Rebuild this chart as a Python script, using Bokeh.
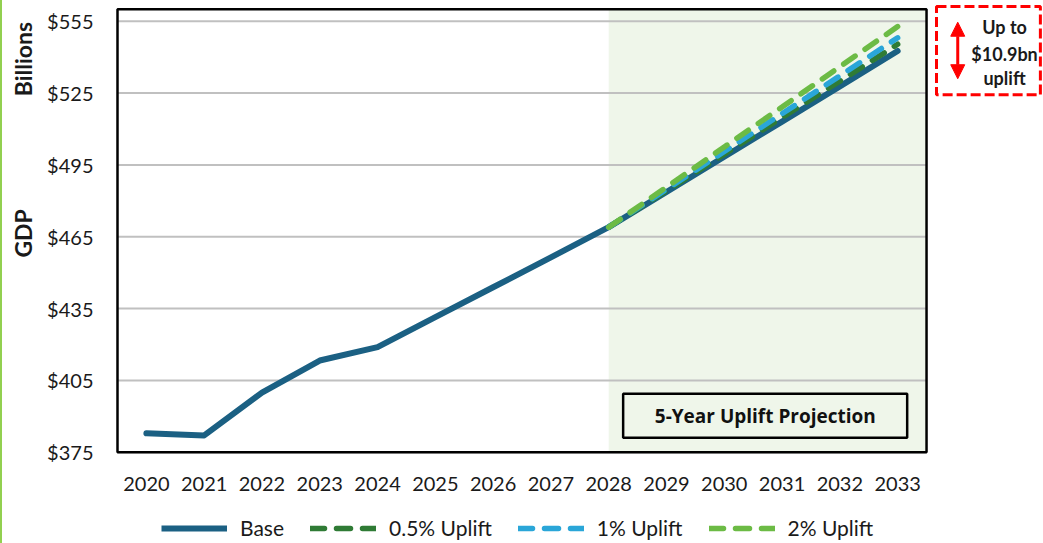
from bokeh.plotting import figure
from bokeh.models import (Range1d, FixedTicker, PrintfTickFormatter, Legend, LegendItem,
                          Arrow, NormalHead, Div)
from bokeh.layouts import column, row
from bokeh.core.properties import value
from bokeh.embed import file_html
from bokeh.resources import INLINE
import math

# ---------------- data ----------------
years = [2020, 2021, 2022, 2023, 2024, 2025, 2026, 2027, 2028, 2029, 2030, 2031, 2032, 2033]
base = [382.9, 382.0, 399.9, 413.3, 418.9, 431.4, 443.9, 456.4, 469.0, 483.7, 498.4, 513.1, 527.8, 542.6]
proj_years = [2028, 2029, 2030, 2031, 2032, 2033]
uplift_05 = [469.0, 484.2, 499.5, 514.8, 530.0, 545.4]
uplift_1 = [469.0, 484.8, 500.6, 516.4, 532.2, 548.1]
uplift_2 = [469.0, 485.7, 502.5, 519.2, 536.0, 552.8]
y_ticks = [375, 405, 435, 465, 495, 525, 555]
series_names = ["Base", "0.5% Uplift", "1% Uplift", "2% Uplift"]
y_titles = ["GDP", "Billions"]

FONT = "Lato"
C_BASE = "#1b6083"
C_05 = "#2f7b35"
C_1 = "#2aa6d8"
C_2 = "#6cbb45"
SHADE = "#eff6ea"
DASH = "14 12"
X0, X1 = years[0] - 0.5, years[-1] + 0.5
Y0, Y1 = 375, 560

yr = Range1d(374.04, 562.84)

p = figure(width=1003, height=500,
           x_range=Range1d(2019.4654, 2035.524), y_range=yr,
           output_backend="svg", toolbar_location=None,
           min_border_left=75, min_border_right=0, min_border_top=2, min_border_bottom=46)
p.outline_line_color = None
p.background_fill_color = "white"
p.border_fill_color = "white"
p.grid.visible = False

# axes
p.yaxis.ticker = FixedTicker(ticks=y_ticks)
p.yaxis.formatter = PrintfTickFormatter(format="$%d")
p.xaxis.ticker = FixedTicker(ticks=years)
p.xaxis.formatter = PrintfTickFormatter(format="%d")
for ax in (p.xaxis[0], p.yaxis[0]):
    ax.axis_line_color = None
    ax.major_tick_line_color = None
    ax.minor_tick_line_color = None
    ax.major_tick_out = 0
    ax.major_tick_in = 0
    ax.major_label_text_font = FONT
    ax.major_label_text_font_size = "20px"
    ax.major_label_text_color = "#1a1a1a"
p.yaxis.major_label_standoff = 22
p.xaxis.major_label_standoff = 22

# projection shading
p.quad(left=[2028], right=[X1], bottom=[Y0], top=[Y1],
       fill_color=SHADE, line_color=None, level="image")

# horizontal gridlines at the tick values, limited to the plot box
p.segment(x0=[X0] * len(y_ticks), x1=[X1] * len(y_ticks), y0=y_ticks, y1=y_ticks,
          line_color="#c0c0c0", line_width=2, level="underlay")

# lines
r_base = p.line(years, base, line_color=C_BASE, line_width=6, line_join="round", line_cap="round")
r05 = p.line(proj_years, uplift_05, line_color=C_05, line_width=5.5, line_dash=DASH, line_cap="round")
r1 = p.line(proj_years, uplift_1, line_color=C_1, line_width=5.5, line_dash=DASH, line_cap="round")
r2 = p.line(proj_years, uplift_2, line_color=C_2, line_width=5.5, line_dash=DASH, line_cap="round")

# projection label box
p.quad(left=[2028.25], right=[2033.165], bottom=[381.0], top=[399.4],
       fill_color=SHADE, line_color="black", line_width=2.5)
p.text(x=[2030.71], y=[390.2], text=["5-Year Uplift Projection"],
       text_font=value("Open Sans"), text_font_style="bold", text_font_size="19px",
       text_align="center", text_baseline="middle", text_color="#111111")

# plot border
p.quad(left=[X0], right=[X1], bottom=[Y0], top=[Y1],
       fill_color=None, line_color="black", line_width=2.5)

# uplift callout
p.quad(left=[2033.672], right=[2035.47], bottom=[524.3], top=[561.2],
       fill_color=None, line_color="#ff0000", line_width=3, line_dash="10 4")
p.text(x=[2034.85, 2034.85, 2034.85], y=[552.5, 541.5, 531.3],
       text=["Up to", "$10.9bn", "uplift"],
       text_font=value(FONT), text_font_style="bold", text_font_size="18px",
       text_align="center", text_baseline="middle", text_color="#1a1a1a")
p.add_layout(Arrow(x_start=2034.04, y_start=531.0, x_end=2034.04, y_end=554.6,
                   line_color="#ff0000", line_width=3,
                   start=NormalHead(size=14, fill_color="#ff0000", line_color="#ff0000"),
                   end=NormalHead(size=14, fill_color="#ff0000", line_color="#ff0000")))

# ---------------- y-title strip (shares the y scale) ----------------
pt = figure(width=38, height=500, x_range=Range1d(0, 38), y_range=yr,
            output_backend="svg", toolbar_location=None,
            x_axis_location=None, y_axis_location=None,
            min_border_left=0, min_border_right=0, min_border_top=2, min_border_bottom=46)
pt.outline_line_color = None
pt.grid.visible = False
pt.text(x=[20, 20], y=[466.4, 539.2], text=y_titles, angle=math.pi / 2,
        text_font=value(FONT), text_font_style="bold", text_font_size="23px",
        text_align="center", text_baseline="middle", text_color="#1a1a1a")

# ---------------- legend strip ----------------
pl = figure(width=1003, height=43, x_range=Range1d(0, 1), y_range=Range1d(0, 1),
            output_backend="svg", toolbar_location=None,
            x_axis_location=None, y_axis_location=None,
            min_border_left=75, min_border_right=0, min_border_top=9, min_border_bottom=0)
pl.outline_line_color = None
pl.grid.visible = False
off = [5, 6]  # keys outside the visible range: only their legend swatches show
lb = pl.line(off, off, line_color=C_BASE, line_width=6)
l05 = pl.line(off, off, line_color=C_05, line_width=5.5, line_dash=DASH, line_cap="round")
l1 = pl.line(off, off, line_color=C_1, line_width=5.5, line_dash=DASH, line_cap="round")
l2 = pl.line(off, off, line_color=C_2, line_width=5.5, line_dash=DASH, line_cap="round")
legend = Legend(items=[LegendItem(label=n, renderers=[r])
                       for n, r in zip(series_names, [lb, l05, l1, l2])],
                orientation="horizontal", location=(46, 3),
                glyph_width=66, glyph_height=18, label_standoff=13, spacing=26,
                label_text_font=FONT, label_text_font_size="21px", label_text_color="#1a1a1a",
                border_line_color=None, background_fill_alpha=0, margin=0, padding=2)
pl.add_layout(legend)

stripe = Div(width=2, height=543, margin=0, styles={"background-color": "#92d050"})
layout = row(stripe, pt, column(p, pl, spacing=0), spacing=0)

open("out.html", "w").write(file_html(layout, INLINE))
